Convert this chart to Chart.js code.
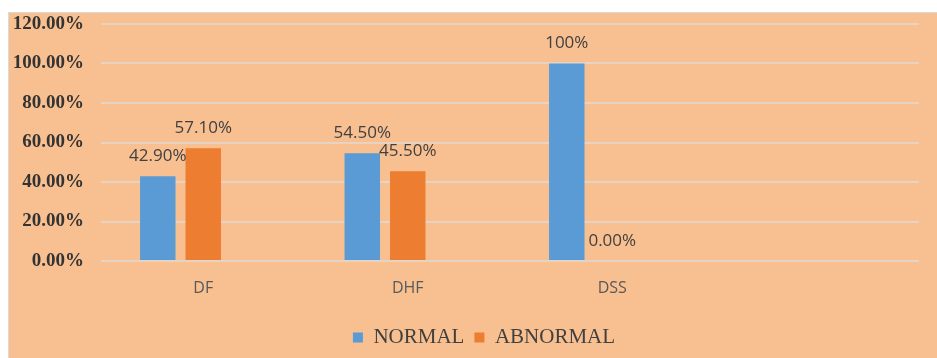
<!DOCTYPE html>
<html>
<head>
<meta charset="utf-8">
<script src="https://cdn.jsdelivr.net/npm/chart.js@4"></script>
<style>
  html, body { margin: 0; padding: 0; background: #fff; }
  #wrap {
    position: absolute; left: 8px; top: 12px; width: 929px; height: 346px;
    background: #F8C091; border-top: 1px solid #D9D9D9; border-left: 1px solid #D9D9D9;
    box-sizing: border-box;
  }
</style>
</head>
<body>
<div id="wrap"><canvas id="barChart" width="928" height="345"></canvas></div>
<script>
const categories = ['DF', 'DHF', 'DSS', ''];
const normalValues = [42.9, 54.5, 100, null];
const abnormalValues = [57.1, 45.5, 0, null];
const normalLabels = ['42.90%', '54.50%', '100%', ''];
const abnormalLabels = ['57.10%', '45.50%', '0.00%', ''];
const yTicks = { min: 0, max: 120, step: 20 };

// writes the value above each bar, like the excel data labels
const barLabels = {
  id: 'barLabels',
  afterLayout(chart) {
    // legend sits a little right of centre in the original
    chart.legend.left += 20;
    chart.legend.right += 20;
  },
  afterDatasetsDraw(chart) {
    const ctx = chart.ctx;
    const texts = [normalLabels, abnormalLabels];
    ctx.save();
    ctx.font = '17px "Open Sans"';
    ctx.fillStyle = '#404040';
    ctx.textAlign = 'center';
    ctx.textBaseline = 'middle';
    texts.forEach((list, di) => {
      chart.getDatasetMeta(di).data.forEach((bar, i) => {
        if (!list[i]) return;
        ctx.fillText(list[i], bar.x, bar.y - 20);
      });
    });
    ctx.restore();
  }
};

const ctx = document.getElementById('barChart').getContext('2d');
const barChart = new Chart(ctx, {
  type: 'bar',
  data: {
    labels: categories,
    datasets: [{
      label: 'NORMAL',
      data: normalValues,
      backgroundColor: '#5B9BD5',
      borderWidth: 0
    }, {
      label: 'ABNORMAL',
      data: abnormalValues,
      backgroundColor: '#ED7D31',
      borderWidth: 0
    }, {
      // empty third series in the original sheet, keeps the gap on the right
      label: '',
      data: [null, null, null, null],
      backgroundColor: 'rgba(0,0,0,0)'
    }]
  },
  options: {
    responsive: false,
    animation: false,
    datasets: { bar: { categoryPercentage: 0.667, barPercentage: 0.78 } },
    layout: { padding: { top: 11, right: 18, bottom: 0, left: 0 } },
    plugins: {
      tooltip: { enabled: false },
      legend: {
        position: 'bottom',
        labels: {
          filter: item => item.datasetIndex < 2,
          boxWidth: 10,
          boxHeight: 10,
          padding: 10,
          color: '#404040',
          font: { family: '"Liberation Serif"', size: 21 }
        }
      }
    },
    scales: {
      x: {
        grid: { display: false },
        border: { display: false },
        ticks: { color: '#595959', padding: 10, font: { family: '"Open Sans"', size: 16 } },
        afterFit(scale) { scale.height = 56; }
      },
      y: {
        min: yTicks.min,
        max: yTicks.max,
        border: { display: false },
        grid: { color: '#E6D3C4', lineWidth: 2, drawTicks: false },
        ticks: {
          stepSize: yTicks.step,
          padding: 17,
          color: '#333333',
          font: { family: '"Liberation Serif"', size: 19, weight: 'bold' },
          callback: v => v.toFixed(2) + '%'
        },
        afterFit(scale) {
          scale.width = 92;
          scale.paddingTop = 0;
          scale.paddingBottom = 0;
        }
      }
    }
  },
  plugins: [barLabels]
});
</script>
</body>
</html>
